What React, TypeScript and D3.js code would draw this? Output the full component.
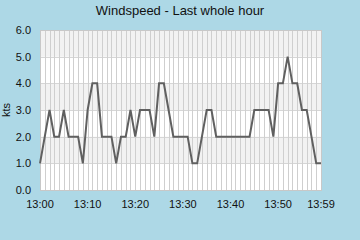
import React from "react";
import * as d3 from "d3";

const minutes: number[] = Array.from({ length: 60 }, (_, i) => i);
const windspeed: number[] = [
  1, 2, 3, 2, 2, 3, 2, 2, 2, 1,
  3, 4, 4, 2, 2, 2, 1, 2, 2, 3,
  2, 3, 3, 3, 2, 4, 4, 3, 2, 2,
  2, 2, 1, 1, 2, 3, 3, 2, 2, 2,
  2, 2, 2, 2, 2, 3, 3, 3, 3, 2,
  4, 4, 5, 4, 4, 3, 3, 2, 1, 1,
];
const yTicks: number[] = [0, 1, 2, 3, 4, 5, 6];
const xTickMinutes: number[] = [0, 10, 20, 30, 40, 50, 59];
const title = "Windspeed - Last whole hour";
const yLabel = "kts";

const W = 360;
const H = 240;
const M = { left: 40, right: 40, top: 30, bottom: 50 };

export default function App() {
  const x = d3.scaleLinear().domain([0, 59]).range([M.left, W - M.right + 1]);
  const y = d3.scaleLinear().domain([0, 6]).range([H - M.bottom, M.top]);
  const line = d3
    .line<number>()
    .x((_, i) => x(minutes[i]))
    .y((d) => y(d));
  const font = "'Liberation Sans', Arial, sans-serif";
  const fmt = (m: number) => `13:${String(m).padStart(2, "0")}`;
  const bands = yTicks.slice(0, -1).filter((v) => v % 2 === 1);

  return (
    <svg
      width={W}
      height={H}
      style={{ position: "fixed", left: 0, top: 0, display: "block" }}
      fontFamily={font}
    >
      <rect x={0} y={0} width={W} height={H} fill="#ADD8E6" />
      <text x={180} y={15} textAnchor="middle" fontSize={13} fill="#111">
        {title}
      </text>
      <rect
        x={x(0)}
        y={y(6)}
        width={x(59) - x(0)}
        height={y(0) - y(6)}
        fill="#fff"
      />
      {bands.map((v) => (
        <rect
          key={"b" + v}
          x={x(0)}
          y={y(v + 1)}
          width={x(59) - x(0)}
          height={y(v) - y(v + 1)}
          fill="#f2f2f2"
        />
      ))}
      {yTicks.map((v) => (
        <line
          key={"h" + v}
          x1={x(0)}
          x2={x(59)}
          y1={Math.round(y(v)) + 0.5}
          y2={Math.round(y(v)) + 0.5}
          stroke="#d6d6d6"
        />
      ))}
      {minutes.map((m) => (
        <line
          key={"v" + m}
          x1={Math.round(x(m)) + 0.5}
          x2={Math.round(x(m)) + 0.5}
          y1={y(6)}
          y2={y(0)}
          stroke="#cfcfcf"
        />
      ))}
      <rect
        x={x(0) + 0.5}
        y={y(6) + 0.5}
        width={x(59) - x(0)}
        height={y(0) - y(6)}
        fill="none"
        stroke="#c8c8c8"
      />
      <path
        d={line(windspeed) || ""}
        fill="none"
        stroke="#606060"
        strokeWidth={2}
        strokeLinejoin="miter"
      />
      {yTicks.map((v) => (
        <text
          key={"yl" + v}
          x={31}
          y={y(v)}
          dy="0.35em"
          textAnchor="end"
          fontSize={11}
          fill="#111"
        >
          {v.toFixed(1)}
        </text>
      ))}
      {xTickMinutes.map((m) => (
        <text
          key={"xl" + m}
          x={x(m)}
          y={208}
          textAnchor="middle"
          fontSize={11}
          fill="#111"
        >
          {fmt(m)}
        </text>
      ))}
      <text
        transform={`translate(10, ${y(3)}) rotate(-90)`}
        textAnchor="middle"
        fontSize={11}
        fill="#111"
      >
        {yLabel}
      </text>
    </svg>
  );
}
